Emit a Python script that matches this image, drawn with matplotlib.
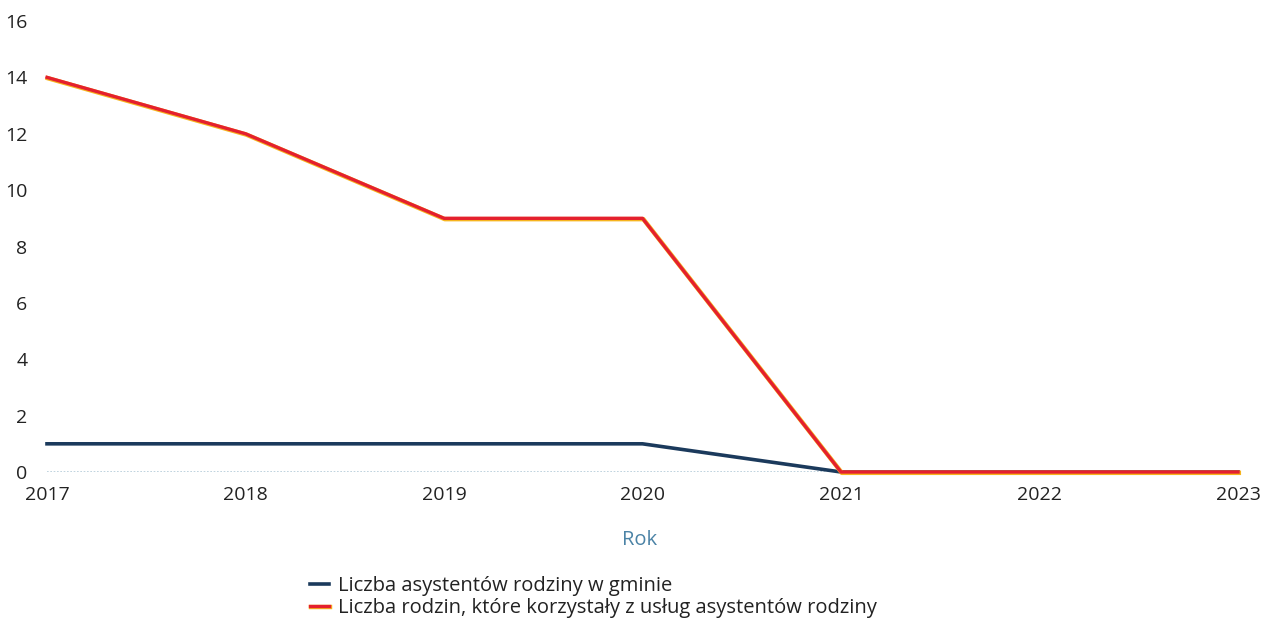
import matplotlib
matplotlib.use("Agg")
import matplotlib.pyplot as plt
import matplotlib.patheffects as pe

years = [2017, 2018, 2019, 2020, 2021, 2022, 2023]
asystenci = [1, 1, 1, 1, 0, 0, 0]
rodziny = [14, 12, 9, 9, 0, 0, 0]
y_ticks = [0, 2, 4, 6, 8, 10, 12, 14, 16]
label_asystenci = "Liczba asystentów rodziny w gminie"
label_rodziny = "Liczba rodzin, które korzystały z usług asystentów rodziny"

plt.rcParams['font.family'] = ['Open Sans', 'DejaVu Sans']

W, H = 1262, 620
fig = plt.figure(figsize=(W / 100, H / 100), dpi=100)
ax = fig.add_axes([47 / W, 1 - 472 / H, (1238 - 47) / W, (472 - 21) / H])

ax.axhline(0, color='#b5ccd9', lw=1.2, ls=(0, (1, 1)), zorder=1)
ax.plot(years, asystenci, color='#1b3a5c', lw=2.6, solid_joinstyle='round',
        label=label_asystenci, zorder=3, clip_on=False)
ax.plot(years, rodziny, color='#e4202e', lw=2.4, solid_joinstyle='round',
        label=label_rodziny, zorder=4, clip_on=False,
        path_effects=[pe.Stroke(linewidth=3.2, foreground='#f6b41e', offset=(0.6, -0.6)),
                      pe.Normal()])

ax.set_xlim(years[0], years[-1])
ax.set_ylim(0, 16)
ax.set_yticks(y_ticks)
ax.set_xticks(years)
ax.tick_params(length=0, labelsize=14, colors='#222222')
ax.tick_params(axis='y', pad=14)
ax.tick_params(axis='x', pad=10)
for s in ax.spines.values():
    s.set_visible(False)

fig.text(640 / W, 1 - 540 / H, "Rok", ha='center', va='center', fontsize=14.5, color='#4b83a6')

leg = fig.legend(loc='upper left', bbox_to_anchor=(310 / W, 1 - 576 / H), frameon=False,
                 fontsize=14.5, handlelength=0.95, handletextpad=0.45, labelspacing=0.1,
                 borderaxespad=0, borderpad=0)
for t in leg.get_texts():
    t.set_color('#222222')

fig.savefig("out.png", dpi=100)
